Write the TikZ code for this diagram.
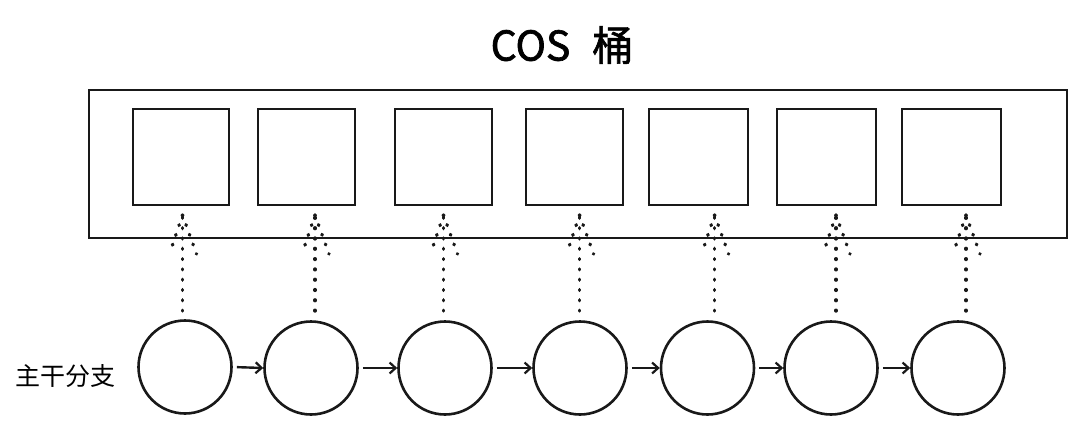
\documentclass[tikz,border=0pt]{standalone}
\usepackage{fontspec}
\newfontfamily\cjkfont{Noto Sans CJK SC}
\newfontfamily\titlefont{Noto Sans CJK SC}[FakeBold=1.6]
\usetikzlibrary{arrows.meta,calc}
\begin{document}
\begin{tikzpicture}[x=1pt,y=-1pt,
  sk/.style={draw=black!90, line width=2.6pt},
  bucket/.style={sk, rectangle, inner sep=0pt},
  slot/.style={sk, rectangle, inner sep=0pt, minimum height=96pt},
  commit/.style={sk, circle, inner sep=0pt, minimum size=93pt},
  dotline/.style={line width=3.4pt, line cap=round, dash pattern=on 0.8pt off 9.5pt, black!90},
  nextarrow/.style={line width=2.4pt, black!90, shorten <=4pt, -{Straight Barb[length=6pt,width=11pt,line width=2.2pt]}},
  titletext/.style={font=\titlefont\fontsize{41}{48}\selectfont},
  labeltext/.style={font=\cjkfont\fontsize{25}{30}\selectfont}
]
\useasboundingbox (0,0) rectangle (1080,426);

\node[titletext] (title) at (562,45) {COS\hspace{22pt}桶};

\node[bucket, minimum width=978pt, minimum height=148pt] (bucket) at (578,164) {};

\node[slot, minimum width=96pt] (s1) at (181,157) {};
\node[slot, minimum width=97pt] (s2) at (306.5,157) {};
\node[slot, minimum width=97pt] (s3) at (443.5,157) {};
\node[slot, minimum width=97pt] (s4) at (574.5,157) {};
\node[slot, minimum width=99pt] (s5) at (698.5,157) {};
\node[slot, minimum width=99pt] (s6) at (826.5,157) {};
\node[slot, minimum width=99pt] (s7) at (951.5,157) {};

\node[commit] (c1) at (185,367) {};
\node[commit] (c2) at (311,368) {};
\node[commit] (c3) at (445,368) {};
\node[commit] (c4) at (580,368) {};
\node[commit] (c5) at (707.5,368) {};
\node[commit] (c6) at (831,368) {};
\node[commit] (c7) at (958,368) {};

\node[labeltext] (label) at (66,376) {主干分支};

\foreach \i/\x in {1/182.5,2/315,3/443.5,4/579.6,5/714.6,6/836,7/966}{
  \coordinate (t\i) at (\x,215);
  \coordinate (b\i) at (\x,311);
  \coordinate (wl\i) at (\x-13,254);
  \coordinate (wr\i) at (\x+14,254);
  \draw[dotline] (b\i) -- (t\i);
  \draw[dotline] (t\i) -- (wl\i);
  \draw[dotline] (t\i) -- (wr\i);
}

\foreach \a/\b in {c1/c2,c2/c3,c3/c4,c4/c5,c5/c6,c6/c7}{
  \draw[nextarrow] (\a.east) -- (\b.west);
}
\end{tikzpicture}
\end{document}
